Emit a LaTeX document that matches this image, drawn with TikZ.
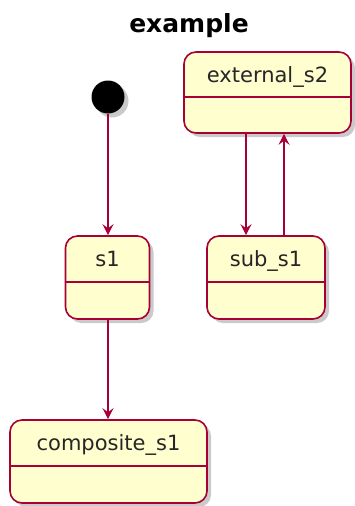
\documentclass[tikz,border=0pt]{standalone}
\usepackage{fontspec}
\setmainfont{DejaVu Sans}
\usetikzlibrary{arrows.meta,shadows,calc}
\definecolor{stfill}{HTML}{FEFECE}
\definecolor{stline}{HTML}{A80036}
\tikzset{
  stbox/.style={draw=stline, fill=stfill, line width=1.6pt, rounded corners=12pt,
    drop shadow={shadow xshift=4pt, shadow yshift=-4pt, opacity=0.35, fill=black!60}},
  stlabel/.style={anchor=base, font=\fontsize{21}{24}\selectfont, text=black!85},
  divline/.style={draw=stline, line width=1.6pt},
  arr/.style={draw=stline, line width=1.3pt, -{Stealth[length=11pt, width=11pt, inset=4pt]}},
  initdot/.style={circle, fill=black, minimum size=33pt, inner sep=0pt,
    drop shadow={shadow xshift=4pt, shadow yshift=-4pt, opacity=0.35, fill=black!60}}
}
\begin{document}
\begin{tikzpicture}[x=1pt,y=-1pt]
\useasboundingbox (0,0) rectangle (355,506);
\node[anchor=base, font=\bfseries\fontsize{25}{29}\selectfont] (title) at (189,32) {example};

\node[initdot] (init) at (108,97) {};

\node[stbox, minimum width=167pt, minimum height=81pt] (ext) at (267.5,92.5) {};
\node[stlabel] (extl) at ($(ext.north)+(0,31.5)$) {external\_s2};
\draw[divline] ($(ext.west)+(0,4.5)$) -- ($(ext.east)+(0,4.5)$);

\node[stbox, minimum width=84pt, minimum height=83pt] (s1) at (107.5,277.5) {};
\node[stlabel] (s1l) at ($(s1.north)+(0,31.5)$) {s1};
\draw[divline] ($(s1.west)+(0,4.5)$) -- ($(s1.east)+(0,4.5)$);

\node[stbox, minimum width=118pt, minimum height=83pt] (sub) at (266,277.5) {};
\node[stlabel] (subl) at ($(sub.north)+(0,31.5)$) {sub\_s1};
\draw[divline] ($(sub.west)+(0,4.5)$) -- ($(sub.east)+(0,4.5)$);

\node[stbox, minimum width=197pt, minimum height=83pt] (comp) at (108.5,461.5) {};
\node[stlabel] (compl) at ($(comp.north)+(0,31.5)$) {composite\_s1};
\draw[divline] ($(comp.west)+(0,4.5)$) -- ($(comp.east)+(0,4.5)$);

\coordinate (xl) at (108,0);
\coordinate (xa) at (246,0);
\coordinate (xb) at (284,0);

\draw[arr] (init.south) -- (s1.north -| xl);
\draw[arr] (s1.south -| xl) -- (comp.north -| xl);
\draw[arr] (ext.south -| xa) -- (sub.north -| xa);
\draw[arr] (sub.north -| xb) -- (ext.south -| xb);
\end{tikzpicture}
\end{document}
